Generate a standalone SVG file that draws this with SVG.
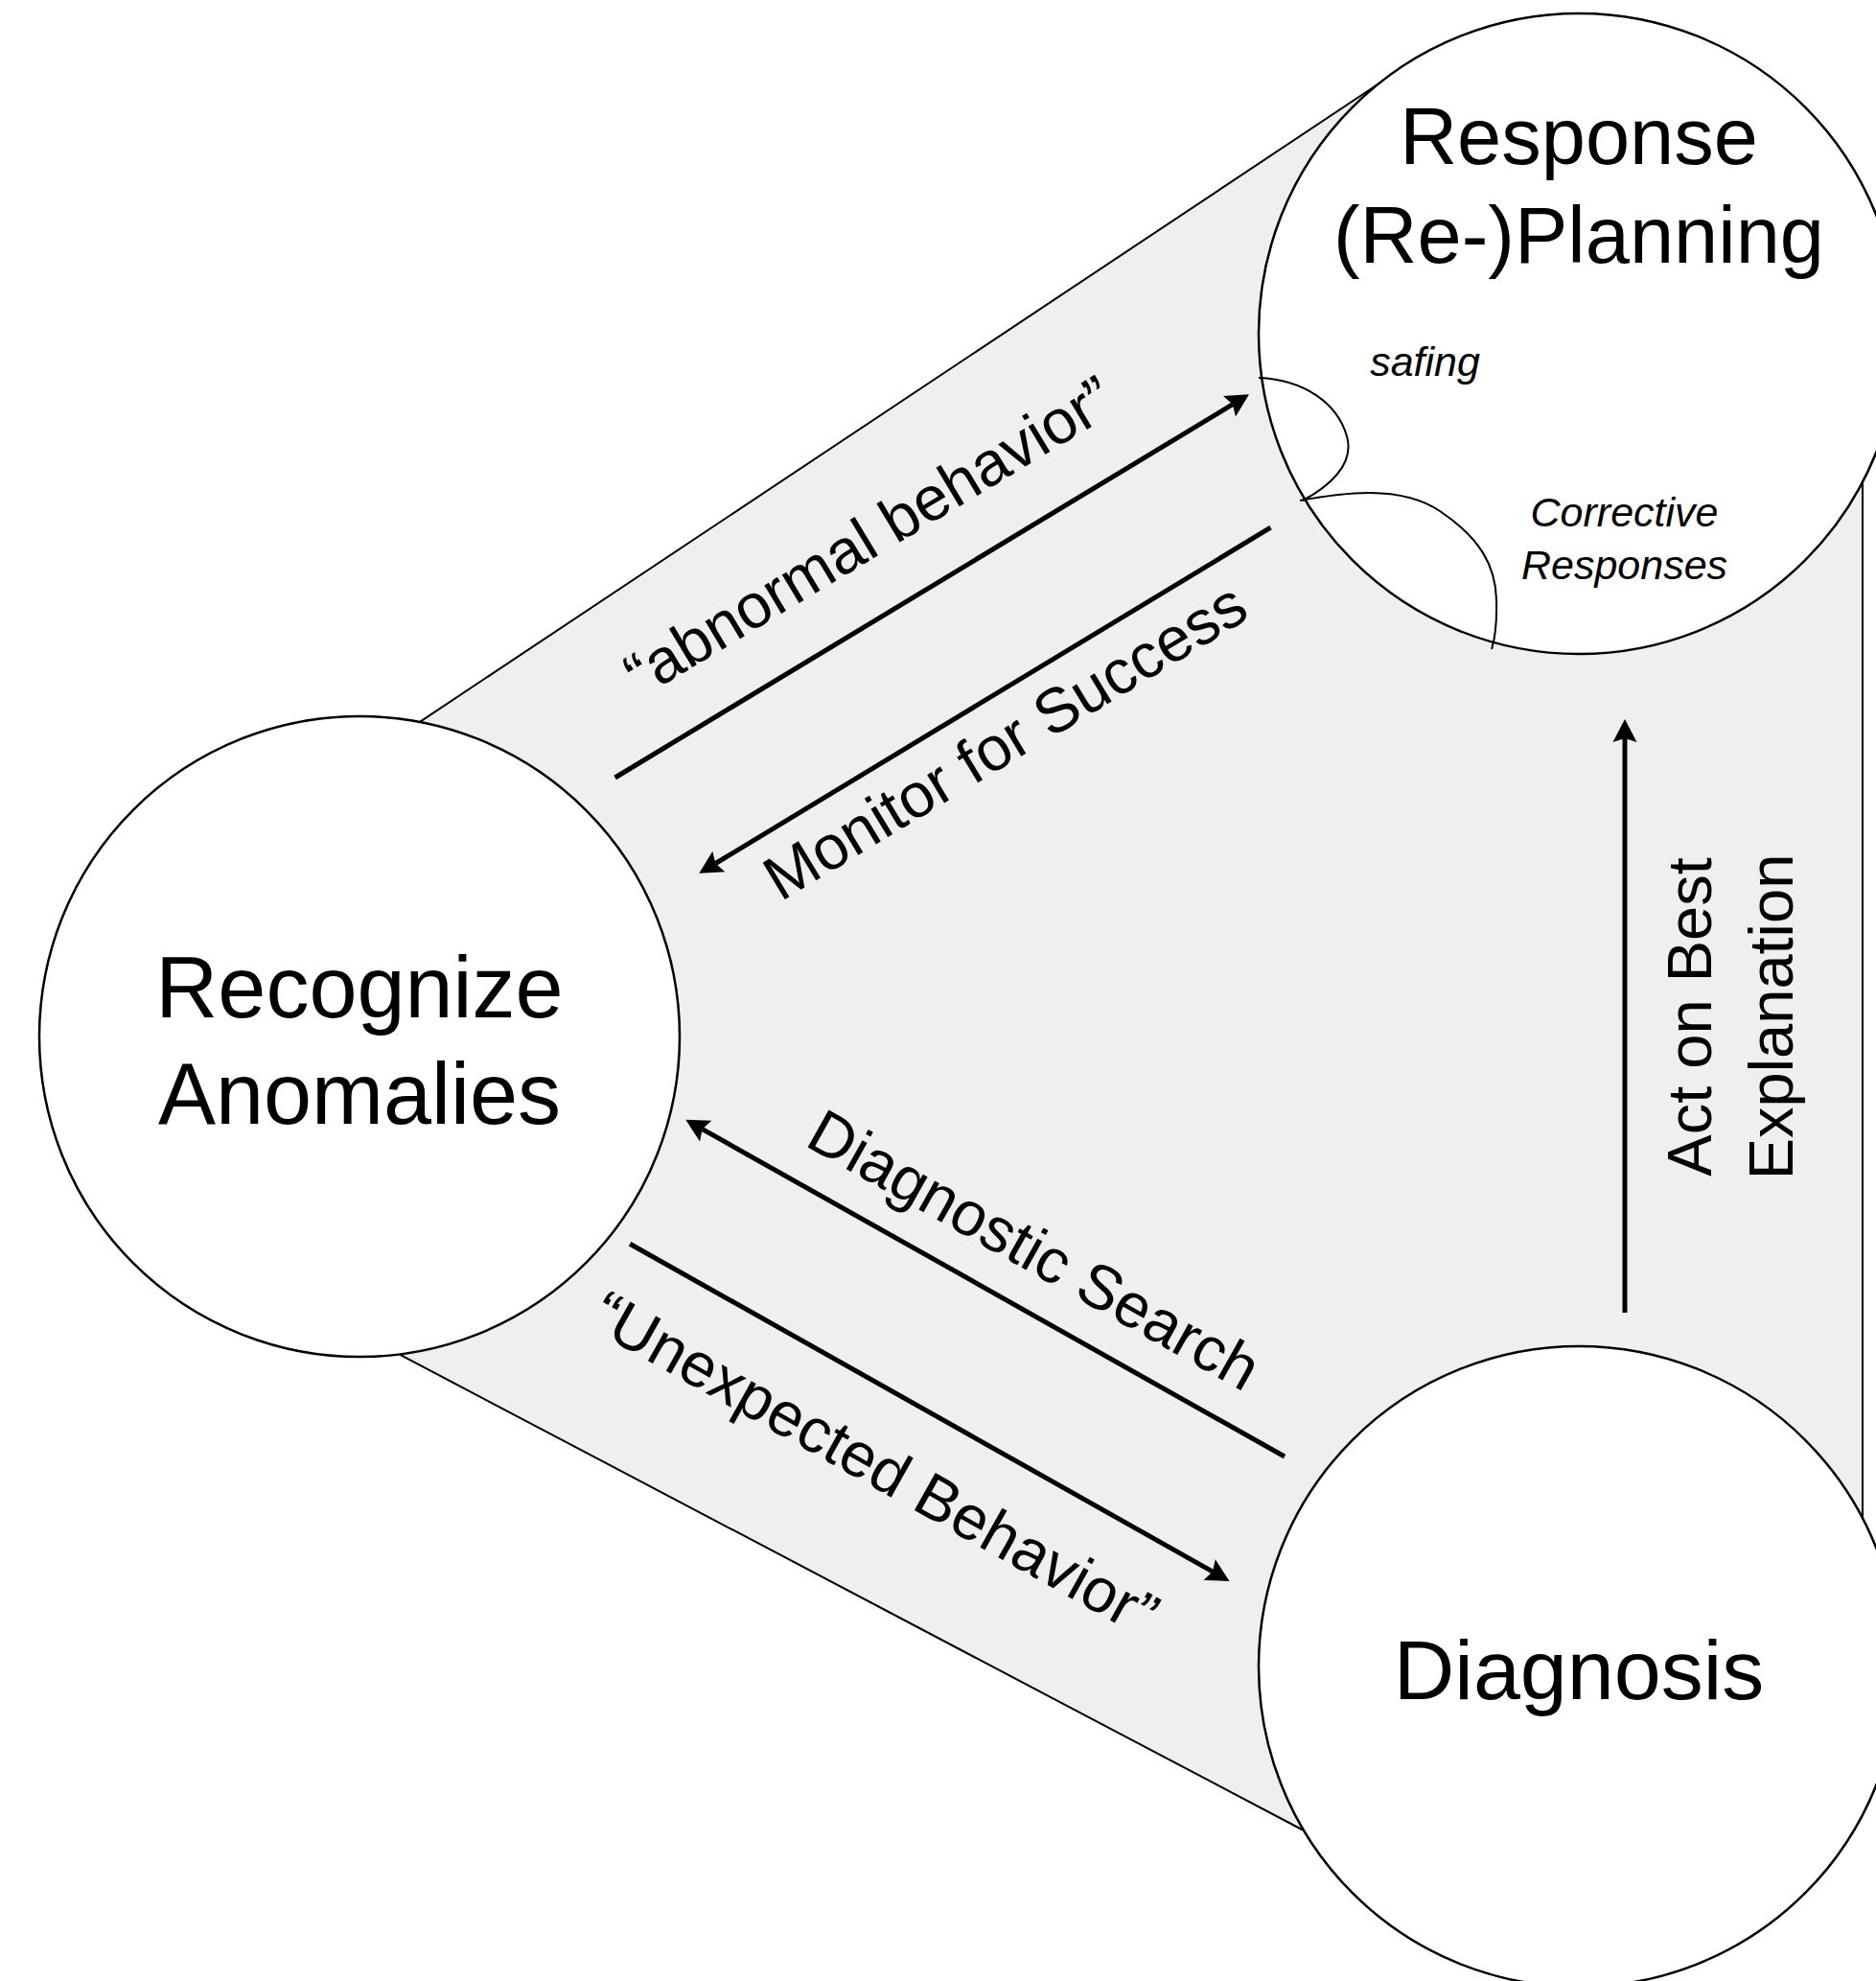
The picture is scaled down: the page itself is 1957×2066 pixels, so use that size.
<svg xmlns="http://www.w3.org/2000/svg" width="1957" height="2066" viewBox="0 0 1957 2066">
  <defs>
    <style>
      .hull { fill: #efefef; stroke: #000; stroke-width: 2; stroke-linejoin: miter; }
      .node { fill: #ffffff; stroke: #000; stroke-width: 2.5; }
      .label { font-family: "Liberation Sans", Arial, "Helvetica Neue", Helvetica, sans-serif; fill: #000; text-anchor: middle; }
      .edge-label { font-size: 65px; }
      .note { font-style: italic; font-size: 43px; }
      .arrow { stroke: #000; stroke-width: 5; fill: none; marker-end: url(#ah); }
      .loop { stroke: #000; stroke-width: 2; fill: none; }
    </style>
    <marker id="ah" markerUnits="userSpaceOnUse" markerWidth="30" markerHeight="30" viewBox="-5 -15 30 30" refX="0" refY="0" orient="auto">
      <path d="M20,0 L-4,-12.5 L0,0 L-4,12.5 Z" fill="#000"/>
    </marker>
  </defs>

  <g id="background">
    <polygon class="hull" points="438.7,752.3 1435,89.5 1943,502.7 1943,1583 1358,1908 417,1412.6"/>
  </g>

  <g id="node-recognize">
    <circle class="node" cx="375" cy="1081" r="334"/>
    <text class="label" x="375" y="1061" font-size="90">Recognize</text>
    <text class="label" x="375" y="1172" font-size="90">Anomalies</text>
  </g>

  <g id="node-response">
    <circle class="node" cx="1647" cy="348" r="334"/>
    <text class="label" x="1647" y="171" font-size="83">Response</text>
    <text class="label" x="1647" y="274" font-size="83">(Re-)Planning</text>
  </g>

  <g id="node-diagnosis">
    <circle class="node" cx="1647" cy="1738" r="334"/>
    <text class="label" x="1647" y="1772" font-size="88">Diagnosis</text>
  </g>

  <g id="connectors">
    <line class="arrow" x1="641.6" y1="811" x2="1285.9" y2="421.7"/>
    <line class="arrow" x1="1325.5" y1="550.2" x2="746.4" y2="900.5"/>
    <line class="arrow" x1="1340" y1="1519" x2="732.7" y2="1177.6"/>
    <line class="arrow" x1="657.1" y1="1297.2" x2="1265.1" y2="1639.1"/>
    <line class="arrow" x1="1695" y1="1369" x2="1695" y2="770"/>
    <path id="loop-safing" class="loop" d="M1313,394 C1360,396 1395,420 1405,455 C1413.6,485 1385,508 1359,522"/>
    <path id="loop-corrective" class="loop" d="M1356,522 C1400,514 1460,505 1502,533 C1544,561 1560,590 1561,625 C1562,660 1558,670 1556,677"/>
  </g>

  <g id="edge-labels">
    <text class="label edge-label" font-size="67" transform="translate(918,578) rotate(-31.1)">“abnormal behavior”</text>
    <text class="label edge-label" font-size="66.5" transform="translate(1060,792) rotate(-31.2)">Monitor for Success</text>
    <text class="label edge-label" transform="translate(1068,1323) rotate(29.3)">Diagnostic Search</text>
    <text class="label edge-label" font-size="67" transform="translate(902,1546) rotate(29.3)">“Unexpected Behavior”</text>
    <text class="label edge-label" transform="translate(1785,1060.5) rotate(-90)">Act on Best</text>
    <text class="label edge-label" transform="translate(1870,1060.5) rotate(-90)">Explanation</text>
    <text class="label note" x="1486.5" y="392">safing</text>
    <text class="label note" x="1694.5" y="549">Corrective</text>
    <text class="label note" x="1694.5" y="604">Responses</text>
  </g>
</svg>
